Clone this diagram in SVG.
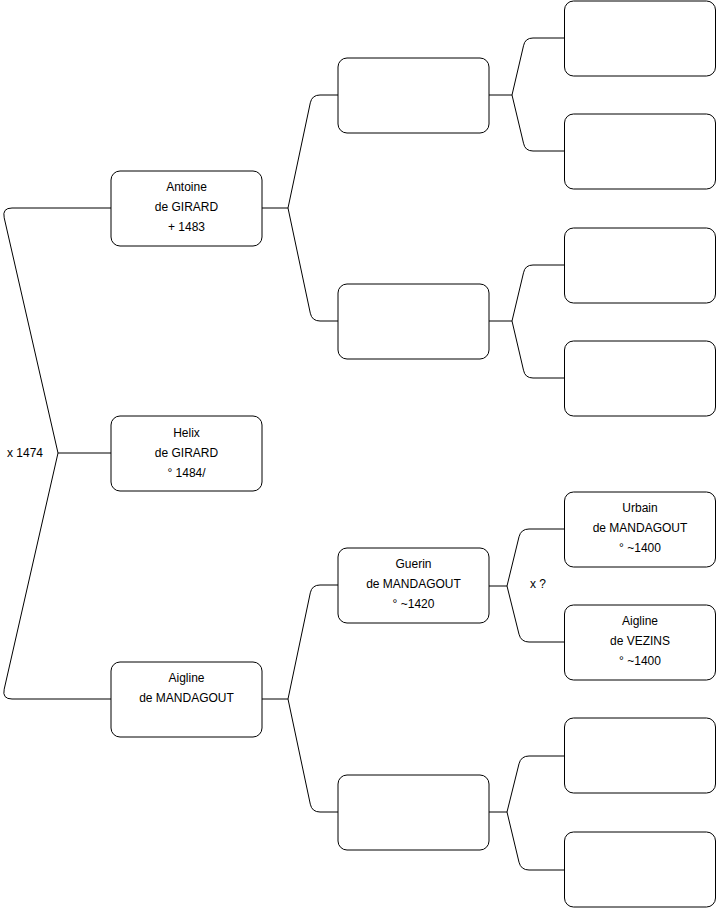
<svg xmlns="http://www.w3.org/2000/svg" width="716" height="908" viewBox="0 0 716 908">
<style>
.box{fill:#fff;stroke:#000;stroke-width:1}
.edge{fill:none;stroke:#000;stroke-width:1}
text{font-family:"Liberation Sans",Arial,sans-serif;font-size:12px;fill:#000}
.c{text-anchor:middle}
</style>
<rect width="716" height="908" fill="#fff"/>
<g id="connectors">
<path class="edge" d="M111,208 H12 Q2,208 4.2,217.8 L58,453 L4.2,689.2 Q2,699 12,699 H111"/>
<path class="edge" d="M58,453 H111"/>
<path class="edge" d="M262,208 H288 M338,95 H320 Q312,95 310.3,102.8 L288,208 L310.3,313.2 Q312,321 320,321 H338"/>
<path class="edge" d="M262,699 H288 M338,585 H320 Q312,585 310.3,592.8 L288,699 L310.3,804.2 Q312,812 320,812 H338"/>
<path class="edge" d="M489,95 H512 M565,38 H533 Q525,38 523.5,45.8 L512,95 L523.5,143.2 Q525,151 533,151 H565"/>
<path class="edge" d="M489,321 H512 M565,265 H533 Q525,265 523.5,272.8 L512,321 L523.5,370.2 Q525,378 533,378 H565"/>
<path class="edge" d="M489,586 H507 M565,529 H529 Q521,529 519,536.8 L507,586 L519,634.2 Q521,642 529,642 H565"/>
<path class="edge" d="M489,812 H507 M565,756 H529 Q521,756 519,763.8 L507,812 L519,862.2 Q521,870 529,870 H565"/>
</g>
<text x="7" y="457">x 1474</text>
<text x="530" y="588">x ?</text>
<g id="antoine"><rect class="box" x="111" y="171" width="151" height="75" rx="9"/>
<text class="c" x="186.5" y="191">Antoine</text><text class="c" x="186.5" y="211">de GIRARD</text><text class="c" x="186.5" y="231">+ 1483</text></g>
<g id="helix"><rect class="box" x="111" y="416" width="151" height="75" rx="9"/>
<text class="c" x="186.5" y="437">Helix</text><text class="c" x="186.5" y="457">de GIRARD</text><text class="c" x="186.5" y="477">° 1484/</text></g>
<g id="aigline-m"><rect class="box" x="111" y="662" width="151" height="75" rx="9"/>
<text class="c" x="186.5" y="682">Aigline</text><text class="c" x="186.5" y="702">de MANDAGOUT</text></g>
<g id="g2a"><rect class="box" x="338" y="58" width="151" height="75" rx="9"/></g>
<g id="g2b"><rect class="box" x="338" y="284" width="151" height="75" rx="9"/></g>
<g id="guerin"><rect class="box" x="338" y="548" width="151" height="75" rx="9"/>
<text class="c" x="413.5" y="568">Guerin</text><text class="c" x="413.5" y="588">de MANDAGOUT</text><text class="c" x="413.5" y="608">° ~1420</text></g>
<g id="g2d"><rect class="box" x="338" y="775" width="151" height="75" rx="9"/></g>
<g id="g3a"><rect class="box" x="564.5" y="1" width="151" height="75" rx="9"/></g>
<g id="g3b"><rect class="box" x="564.5" y="114" width="151" height="75" rx="9"/></g>
<g id="g3c"><rect class="box" x="564.5" y="228" width="151" height="75" rx="9"/></g>
<g id="g3d"><rect class="box" x="564.5" y="341" width="151" height="75" rx="9"/></g>
<g id="urbain"><rect class="box" x="564.5" y="492" width="151" height="75" rx="9"/>
<text class="c" x="640" y="512">Urbain</text><text class="c" x="640" y="532">de MANDAGOUT</text><text class="c" x="640" y="552">° ~1400</text></g>
<g id="aigline-v"><rect class="box" x="564.5" y="605" width="151" height="75" rx="9"/>
<text class="c" x="640" y="625">Aigline</text><text class="c" x="640" y="645">de VEZINS</text><text class="c" x="640" y="665">° ~1400</text></g>
<g id="g3g"><rect class="box" x="564.5" y="718" width="151" height="75" rx="9"/></g>
<g id="g3h"><rect class="box" x="564.5" y="832" width="151" height="75" rx="9"/></g>
</svg>
